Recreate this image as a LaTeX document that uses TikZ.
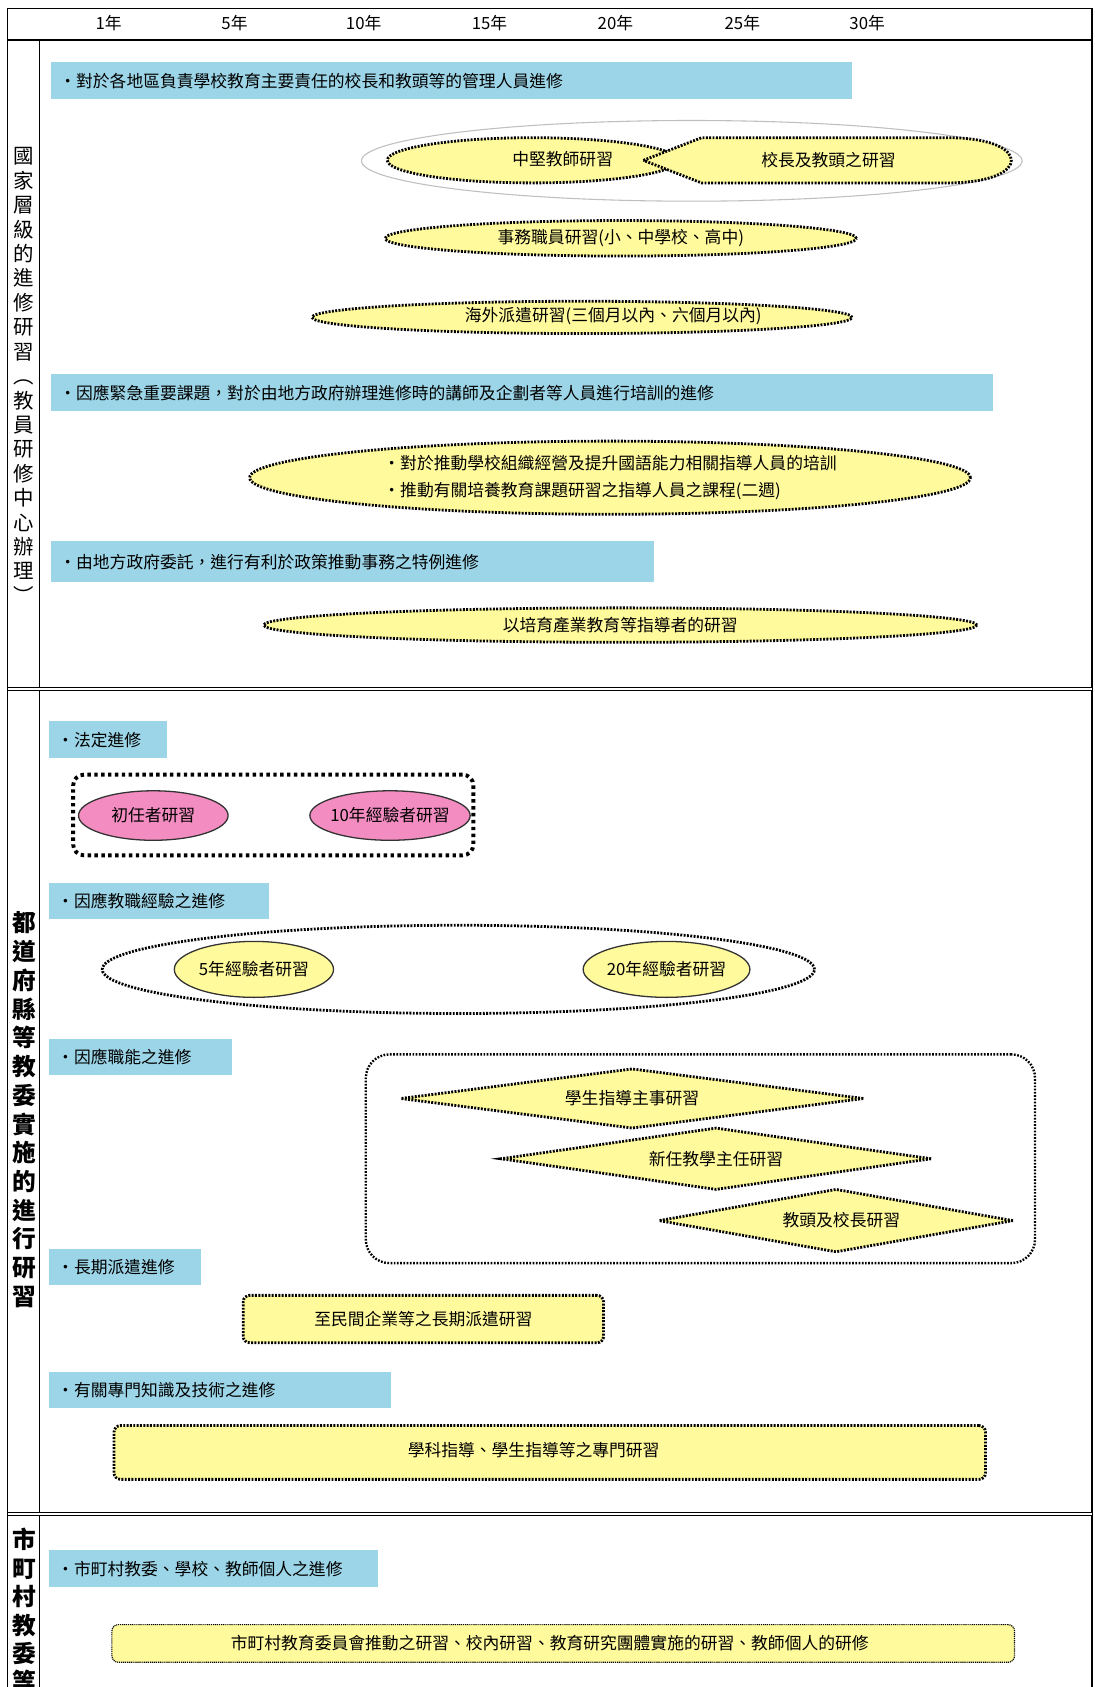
\documentclass[tikz,border=0pt]{standalone}
\usepackage{fontspec}
\setmainfont{Noto Sans CJK TC}
\usetikzlibrary{shapes.geometric}
\definecolor{barblue}{HTML}{9CD5E7}
\definecolor{ovalyellow}{HTML}{FFFA9C}
\definecolor{ovalpink}{HTML}{F38DC1}
\tikzset{
    bar/.style={fill=barblue, anchor=west, inner xsep=8pt, inner ysep=0pt, minimum height=34pt, align=left, text width=#1},
    dotline/.style={line width=2.6pt, dash pattern=on 1.8pt off 1.3pt},
    yoval/.style={ellipse, fill=ovalyellow, draw=black, dotline, inner sep=0pt},
    ybox/.style={rectangle, rounded corners=6pt, fill=ovalyellow, draw=black, dotline, inner sep=0pt},
    ydiamond/.style={diamond, shape aspect=4, fill=ovalyellow, draw=black, dotline, inner sep=0pt},
    solidoval/.style={ellipse, draw=black!80, line width=1.2pt, inner sep=0pt},
    vlabel/.style={text width=20pt, align=center, inner sep=0pt}
}
\begin{document}
\begin{tikzpicture}[x=1pt, y=-1pt, font=\fontsize{15.6}{18}\selectfont]
    \useasboundingbox (0,0) rectangle (1017,1568);
    % frame, header row, left column
    \draw[line width=1.2pt] (7,1590) -- (7,8) -- (1015,8) -- (1015,1590);
    \draw[line width=1.4pt] (7,37) -- (1015,37);
    \draw[line width=1.2pt] (37,37) -- (37,1590);
    \draw[double, double distance=2pt, line width=0.9pt] (7,640) -- (1015,640);
    \draw[double, double distance=2pt, line width=0.9pt] (7,1407) -- (1015,1407);
    \foreach \yr/\xx in {1/101,5/218,10/338,15/455,20/572,25/690,30/806}
        \node (yr\yr) at (\xx,21) {\yr 年};
    % vertical labels
    \node[vlabel, font=\fontsize{19}{22.7}\selectfont] (natlabel) at (22,349)
        {國\\家\\層\\級\\的\\進\\修\\研\\習\\︵\\教\\員\\研\\修\\中\\心\\辦\\理\\︶};
    \node[vlabel, font=\fontsize{22}{26.7}\selectfont\bfseries] (preflabel) at (22,1031.5)
        {都\\道\\府\\縣\\等\\教\\委\\實\\施\\的\\進\\行\\研\\習};
    \node[vlabel, font=\fontsize{22}{26.4}\selectfont\bfseries] (citylabel) at (22,1497)
        {市\\町\\村\\教\\委\\等};

    % national level
    \node[bar=729pt] (mgmtbar) at (47,75) {・對於各地區負責學校教育主要責任的校長和教頭等的管理人員進修};
    \node[ellipse, draw=gray!50, line width=1pt, minimum width=614pt, minimum height=75pt] (mgmtgroup) at (643,149.5) {};
    \node[yoval, minimum width=270pt, minimum height=42pt] (midoval) at (495,149) {};
    \filldraw[fill=ovalyellow, dotline] (598,149) -- (652,128) -- (885,128)
        .. controls (925,129) and (940,140) .. (940,149)
        .. controls (940,158) and (925,169) .. (885,170) -- (652,170) -- cycle;
    \node (midtxt) at (523,148) {中堅教師研習};
    \node (headtxt) at (770,149) {校長及教頭之研習};
    \node[yoval, minimum width=438pt, minimum height=33pt] (clerk) at (577,221.5) {事務職員研習(小、中學校、高中)};
    \node[yoval, minimum width=502pt, minimum height=30pt] (abroad) at (541,295) {};
    \node (abroadtxt) at (570,294) {海外派遣研習(三個月以內、六個月以內)};
    \node[bar=860pt] (urgentbar) at (47,365) {・因應緊急重要課題，對於由地方政府辦理進修時的講師及企劃者等人員進行培訓的進修};
    \node[yoval, minimum width=670pt, minimum height=68pt, align=left, font=\fontsize{15.6}{25}\selectfont] (leaders) at (567,444)
        {・對於推動學校組織經營及提升國語能力相關指導人員的培訓\\・推動有關培養教育課題研習之指導人員之課程(二週)};
    \node[bar=545pt, minimum height=38pt] (entrustbar) at (47,522) {・由地方政府委託，進行有利於政策推動事務之特例進修};
    \node[yoval, minimum width=663pt, minimum height=32pt] (industry) at (576.5,581) {以培育產業教育等指導者的研習};

    % prefecture level
    \node[bar=94pt] (legalbar) at (45,687.5) {・法定進修};
    \node[rectangle, rounded corners=10pt, draw=black, line width=3.6pt, dash pattern=on 3.2pt off 3.2pt,
        minimum width=372pt, minimum height=75pt] (legalgroup) at (254,757.5) {};
    \node[solidoval, fill=ovalpink, minimum width=139pt, minimum height=46pt] (novice) at (142.5,758) {初任者研習};
    \node[solidoval, fill=ovalpink, inner xsep=-5pt, minimum width=149pt, minimum height=46pt] (tenyear) at (362.5,758) {10年經驗者研習};
    \node[bar=189pt] (expbar) at (45,837.5) {・因應教職經驗之進修};
    \node[ellipse, draw=black, dotline, minimum width=662pt, minimum height=82pt] (expgroup) at (426,901) {};
    \node[solidoval, fill=ovalyellow, minimum width=148pt, minimum height=52pt] (fiveyear) at (236,901) {5年經驗者研習};
    \node[solidoval, fill=ovalyellow, inner xsep=-3pt, minimum width=155pt, minimum height=52pt] (twentyyear) at (619.5,901) {20年經驗者研習};
    \node[bar=154pt] (dutybar) at (45,982.5) {・因應職能之進修};
    \node[rectangle, rounded corners=22pt, draw=black, line width=2.2pt, dash pattern=on 1.6pt off 1.4pt,
        minimum width=622pt, minimum height=194pt] (dutygroup) at (651,1077) {};
    \node[ydiamond, minimum width=431pt, minimum height=56pt] (guidance) at (587.5,1021) {學生指導主事研習};
    \node[ydiamond, minimum width=401pt, minimum height=58pt] (newchief) at (665.5,1077) {新任教學主任研習};
    \node[ydiamond, minimum width=330pt, minimum height=59pt] (principal) at (777,1134.5) {\hspace*{10pt}教頭及校長研習};
    \node[bar=126pt] (longbar) at (45,1177.5) {・長期派遣進修};
    \node[ybox, minimum width=335pt, minimum height=44pt] (dispatch) at (393.5,1226) {至民間企業等之長期派遣研習};
    \node[bar=302pt] (expertbar) at (45,1292) {・有關專門知識及技術之進修};
    \node[ybox, minimum width=810pt, minimum height=50pt] (expert) at (511,1350) {};
    \node (experttxt) at (496,1348) {學科指導、學生指導等之專門研習};

    % municipal level
    \node[bar=290pt] (citybar) at (45,1458) {・市町村教委、學校、教師個人之進修};
    \node[ybox, line width=1.1pt, dash pattern=on 1pt off 0.8pt, minimum width=839pt, minimum height=35pt] (citybox) at (523.5,1527.5) {};
    \node (citytxt) at (511,1527) {市町村教育委員會推動之研習、校內研習、教育研究團體實施的研習、教師個人的研修};
\end{tikzpicture}
\end{document}
